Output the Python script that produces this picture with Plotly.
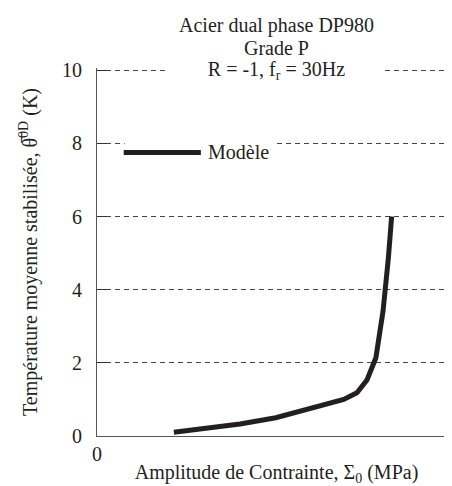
import plotly.graph_objects as go

# Data
sigma = [0.215, 0.30, 0.40, 0.50, 0.58, 0.64, 0.69, 0.727, 0.755, 0.78, 0.80, 0.815, 0.824]
theta = [0.10, 0.21, 0.33, 0.50, 0.70, 0.86, 1.00, 1.18, 1.53, 2.14, 3.42, 4.88, 6.00]
x_ticks = [0, 1]
y_ticks = [0, 2, 4, 6, 8, 10]
series_name = "Modèle"

FONT = "Liberation Serif"
INK = "#231f20"
FS = 20

fig = go.Figure()
fig.add_trace(go.Scatter(x=sigma, y=theta, mode="lines", name=series_name,
                         line=dict(color=INK, width=5), showlegend=False))

fig.update_layout(
    width=452, height=486,
    margin=dict(l=89, r=0, t=60, b=58),
    paper_bgcolor="white", plot_bgcolor="white",
    font=dict(family=FONT, size=FS, color=INK),
    xaxis=dict(range=[0, 1.004], tickvals=x_ticks, ticktext=[str(v) for v in x_ticks],
               showgrid=False, zeroline=False, showline=True, linecolor="#555",
               linewidth=1, ticks="", ticklabelstandoff=0, ticklabeloverflow="allow",
               title=dict(text="Amplitude de Contrainte, Σ<sub>0</sub> (MPa)",
                          font=dict(size=FS), standoff=0)),
    yaxis=dict(range=[0, 10.06], tickvals=y_ticks, showgrid=True, gridcolor="#444",
               griddash="5px,4px", gridwidth=1, zeroline=False, showline=True,
               linecolor="#555", linewidth=1, ticks="inside", ticklen=10,
               tickcolor="#333", mirror="ticks", ticklabelstandoff=10,
               title=dict(text="Température moyenne stabilisée, θ̅<sup>0D</sup> (K)",
                          font=dict(size=FS), standoff=19)),
)

annotations = [
    dict(text="Acier dual phase DP980", x=0.5, y=1.115, xref="paper", yref="paper",
         showarrow=False, font=dict(size=FS), yanchor="middle"),
    dict(text="Grade P", x=0.5, y=1.055, xref="paper", yref="paper",
         showarrow=False, font=dict(size=FS), yanchor="middle"),
    dict(text="R = -1, f<sub>r</sub> = 30Hz", x=0.5, y=0.994, xref="paper", yref="paper",
         showarrow=False, font=dict(size=FS), yanchor="middle", bgcolor="white",
         width=213),
    dict(text=series_name, x=0.303, y=0.7705, xref="paper", yref="paper",
         showarrow=False, font=dict(size=FS), xanchor="left", yanchor="middle"),
]
fig.update_layout(annotations=annotations)

fig.update_layout(shapes=[
    dict(type="rect", xref="paper", yref="paper", x0=0.077, x1=0.493, y0=0.75, y1=0.815,
         fillcolor="white", line=dict(width=0), layer="above"),
    dict(type="line", xref="paper", yref="paper", x0=0.0744, x1=0.2893, y0=0.7705, y1=0.7705,
         line=dict(color=INK, width=5), layer="above"),
])

fig.write_html("out.html")
